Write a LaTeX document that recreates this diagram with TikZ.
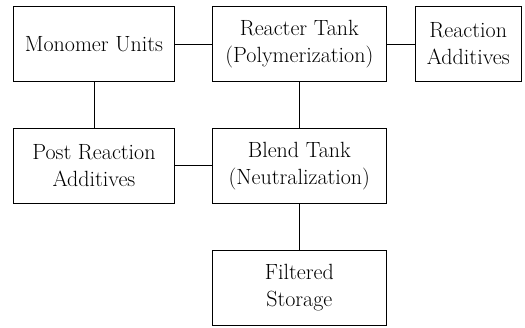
\documentclass[tikz,border=0pt]{standalone}
\usetikzlibrary{positioning}

\begin{document}
\begin{tikzpicture}[x=1pt, y=1pt, node distance=46pt and 37pt, font=\fontsize{22}{27}\selectfont]

	\tikzstyle{unit}=[draw, line width=0.9pt, align=center, inner sep=2pt, minimum height=75pt]
	\tikzstyle{pipe}=[line width=0.9pt]

	\useasboundingbox (0,0) rectangle (525,-327);

	\node[unit, minimum width=161pt, anchor=north west](mono) at (13,-6){Monomer Units};
	\node[unit, minimum width=174pt, right=of mono](reacter){Reacter Tank\\(Polymerization)};
	\node[unit, minimum width=106pt, right=28pt of reacter](additives){Reaction\\Additives};

	\node[unit, minimum width=161pt, below=of mono](postadd){Post Reaction\\Additives};
	\node[unit, minimum width=174pt, below=of reacter](blend){Blend Tank\\(Neutralization)};
	\node[unit, minimum width=174pt, below=of blend](storage){Filtered\\Storage};

	\draw[pipe] (mono) -- (reacter);
	\draw[pipe] (reacter) -- (additives);
	\draw[pipe] (mono) -- (postadd);
	\draw[pipe] (reacter) -- (blend);
	\draw[pipe] (postadd) -- (blend);
	\draw[pipe] (blend) -- (storage);

\end{tikzpicture}
\end{document}
